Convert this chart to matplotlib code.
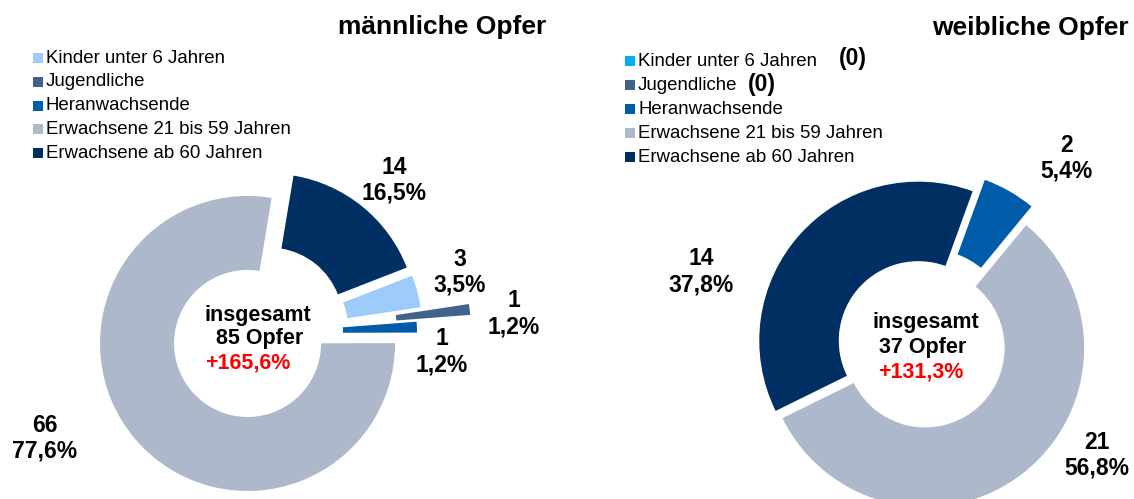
import matplotlib.pyplot as plt
from matplotlib.patches import Rectangle

plt.rcParams['font.family'] = ['Liberation Sans', 'DejaVu Sans']

W, H = 1134, 499

# data
categories = ["Kinder unter 6 Jahren", "Jugendliche", "Heranwachsende",
              "Erwachsene 21 bis 59 Jahren", "Erwachsene ab 60 Jahren"]
male_values = [3, 1, 1, 66, 14]
female_values = [0, 0, 2, 21, 14]
male_title = "männliche Opfer"
female_title = "weibliche Opfer"
male_change = "+165,6%"
female_change = "+131,3%"

male_colors = ["#9DCBFA", "#41638B", "#005CA9", "#ADB8CA", "#002F63"]
female_colors = ["#00B0F0", "#41638B", "#005CA9", "#ADB8CA", "#002F63"]

fig = plt.figure(figsize=(W / 100, H / 100), dpi=100)
ax = fig.add_axes([0, 0, 1, 1])


def py(y):
    # pixel row from the top -> data y
    return H - y


def reset_axes():
    ax.set_xlim(0, W)
    ax.set_ylim(0, H)
    ax.set_aspect('auto')
    ax.axis('off')


def donut(values, colors, center, radius, width, start, explode):
    keep = [i for i, v in enumerate(values) if v > 0]
    ax.pie([values[i] for i in keep],
           colors=[colors[i] for i in keep],
           explode=[explode[i] for i in keep],
           center=(center[0], py(center[1])), radius=radius,
           startangle=start, counterclock=False,
           wedgeprops=dict(width=width, linewidth=0))
    reset_axes()


def value_labels(values, positions):
    total = sum(values)
    for v, pos in zip(values, positions):
        if v == 0 or pos is None:
            continue
        pct = f"{v / total * 100:.1f}".replace(".", ",")
        ax.text(pos[0], py(pos[1]), f"{v}\n{pct}%", ha='center', va='center',
                fontsize=16.5, fontweight='bold', linespacing=1.15)


def center_text(values, change, xs, ys):
    ax.text(xs[0], py(ys[0]), "insgesamt", ha='center', va='center',
            fontsize=15.5, fontweight='bold')
    ax.text(xs[1], py(ys[1]), f"{sum(values)} Opfer", ha='center', va='center',
            fontsize=15.5, fontweight='bold')
    ax.text(xs[2], py(ys[2]), change, ha='center', va='center',
            fontsize=15.5, fontweight='bold', color='#FF0000')


def legend(x, y0, step, colors):
    for i, (cat, c) in enumerate(zip(categories, colors)):
        y = y0 + i * step
        ax.add_patch(Rectangle((x, py(y) - 5), 10, 10, color=c, lw=0))
        ax.text(x + 13, py(y), cat, fontsize=13.4, ha='left', va='center')


# male
donut(male_values, male_colors, (259.5, 333.3), 147.5, 74, 21.3,
      [15.7, 64, 10, 15.7, 15.7])
value_labels(male_values, [(460, 272), (513.5, 313.7), (442, 351.7),
                           (45, 438.3), (394, 180)])
center_text(male_values, male_change, (258, 260, 247.7), (315, 338.3, 363.3))
legend(32.5, 58, 23.8, male_colors)
ax.text(442.5, py(26.7), male_title, ha='center', va='center',
        fontsize=19, fontweight='bold')

# female
donut(female_values, female_colors, (922, 344), 159, 79.5, 70,
      [0, 0, 17, 5, 5])
value_labels(female_values, [None, None, (1066.5, 158.3), (1097, 455),
                             (701, 271.7)])
center_text(female_values, female_change, (926, 922.7, 921.2),
            (322.7, 347.7, 371.7))
legend(625, 61, 24, female_colors)
ax.text(852.5, py(58.3), "(0)", ha='center', va='center',
        fontsize=16.5, fontweight='bold')
ax.text(762, py(84), "(0)", ha='center', va='center',
        fontsize=16.5, fontweight='bold')
ax.text(1030.6, py(28.3), female_title, ha='center', va='center',
        fontsize=19, fontweight='bold')

fig.savefig("out.png", dpi=100)
